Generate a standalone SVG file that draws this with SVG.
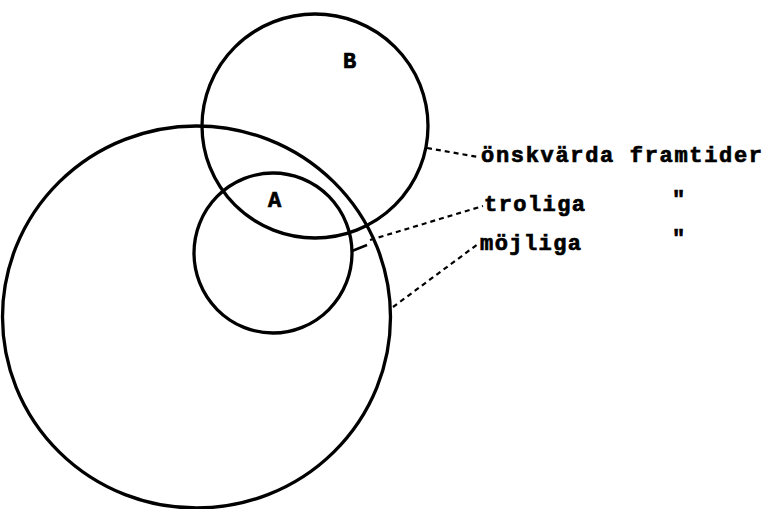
<svg xmlns="http://www.w3.org/2000/svg" width="767" height="509" viewBox="0 0 767 509">
<style>
.c{fill:none;stroke:#000;stroke-width:3.3}
.d{fill:none;stroke:#000;stroke-width:2.2;stroke-dasharray:5,4}
.t{font-family:"Liberation Mono","DejaVu Sans Mono",monospace;font-weight:bold;font-size:22px;fill:#000;stroke:#000;stroke-width:0.7}
</style>
<rect width="767" height="509" fill="#fff"/>
<g id="possible"><ellipse class="c" cx="196.5" cy="317" rx="194" ry="191"/></g>
<g id="desired"><ellipse class="c" cx="315" cy="126" rx="113" ry="112"/><text class="t" x="343" y="68">B</text></g>
<g id="probable"><ellipse class="c" cx="273" cy="253" rx="79" ry="80"/><text class="t" x="268" y="207">A</text></g>
<g id="connectors">
<path class="c" style="stroke-width:2.5" d="M352 251 L367 245"/>
<path class="d" d="M427 148 L478 157"/>
<path class="d" d="M370 240 L483 206"/>
<path class="d" d="M393 307 L478 244"/>
</g>
<g id="labels">
<text class="t" x="481" y="162" textLength="281">önskvärda framtider</text>
<text class="t" x="484" y="211" textLength="101">troliga</text>
<text class="t" x="672" y="206">"</text>
<text class="t" x="480" y="250" textLength="101">möjliga</text>
<text class="t" x="672" y="245">"</text>
</g>
</svg>
